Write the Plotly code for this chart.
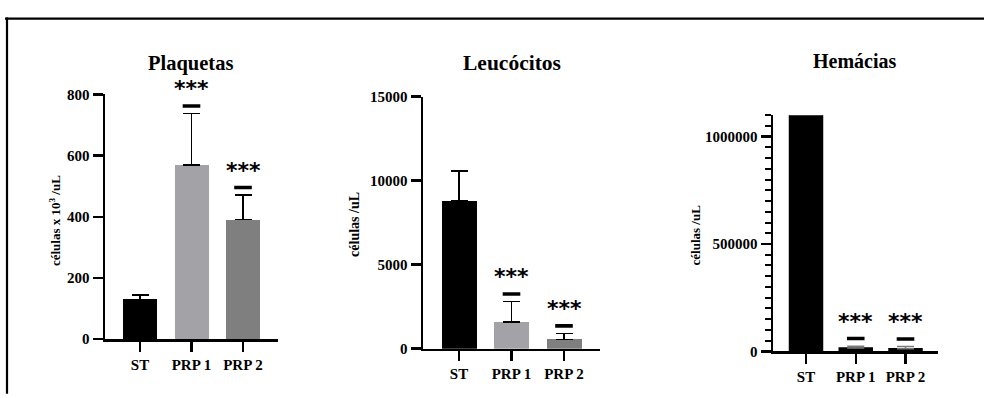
import plotly.graph_objects as go

# ---------------- data ----------------
categories = ["ST", "PRP 1", "PRP 2"]
bar_colors = ["#000000", "#a3a3a7", "#7f7f7f"]

plaquetas_mean = [130, 570, 391]
plaquetas_sd = [15, 167, 80]

leucocitos_mean = [8810, 1580, 550]
leucocitos_sd = [1770, 1220, 360]

# ST bar runs past the top of the axis (clipped)
hemacias_mean = [1150000, 15000, 12000]
hemacias_sd = [0, 9000, 10000]

significance = ["", "***", "***"]

titles = ["Plaquetas", "Leucócitos", "Hemácias"]
ytitles = ["células x 10<sup>3</sup> /uL", "células /uL", "células /uL"]

W, H = 984, 398

# panel layout in pixels
panels = [
    dict(mean=plaquetas_mean, sd=plaquetas_sd, left=105, right=278, bottom=345, top=90,
         c0=140, c2=243, barpx=34, yrange=[0, 800], dtick=200, minor=None,
         title_xy=(190, 58), tsize=20.5, ytitle_xy=(55, 222), ytsize=13,
         errcolor="black", line=0),
    dict(mean=leucocitos_mean, sd=leucocitos_sd, left=423, right=600, bottom=355, top=92.3,
         c0=459, c2=564, barpx=35, yrange=[0, 15000], dtick=5000, minor=None,
         title_xy=(512, 57), tsize=21.5, ytitle_xy=(355, 226), ytsize=14,
         errcolor="black", line=0),
    dict(mean=hemacias_mean, sd=hemacias_sd, left=773, right=938, bottom=357.7, top=111.7,
         c0=806, c2=905.5, barpx=33, yrange=[0, 1100000], dtick=500000, minor=50000,
         title_xy=(855, 55), tsize=20, ytitle_xy=(695, 237), ytsize=13,
         errcolor="#7a7a7a", line=1.5),
]

serif = "Liberation Serif"
fig = go.Figure()
shapes = []
annotations = []

for i, p in enumerate(panels):
    n = i + 1
    xa = "x" if n == 1 else f"x{n}"
    ya = "y" if n == 1 else f"y{n}"
    spacing = (p["c2"] - p["c0"]) / 2
    r0 = -(p["c0"] - p["left"]) / spacing
    r1 = r0 + (p["right"] - p["left"]) / spacing
    xs = list(range(len(categories)))

    fig.add_trace(go.Bar(
        x=xs, y=p["mean"], xaxis=xa, yaxis=ya,
        width=p["barpx"] / spacing,
        marker=dict(color=bar_colors if p["line"] == 0 else "black",
                    line=dict(color="black", width=p["line"])),
        error_y=dict(type="data", symmetric=False, array=p["sd"],
                     arrayminus=[0] * len(xs), color=p["errcolor"],
                     thickness=1.5, width=8.5),
        showlegend=False, hoverinfo="skip",
    ))

    axis_common = dict(showline=True, linecolor="black", linewidth=2.5,
                       ticks="outside", ticklen=10, tickwidth=2.5, tickcolor="black",
                       showgrid=False, zeroline=False,
                       tickfont=dict(family=serif, size=15, color="black", weight="bold"))
    xdom = [p["left"] / W, p["right"] / W]
    ydom = [1 - p["bottom"] / H, 1 - p["top"] / H]
    xkey = "xaxis" if n == 1 else f"xaxis{n}"
    ykey = "yaxis" if n == 1 else f"yaxis{n}"
    fig.update_layout(**{
        xkey: dict(domain=xdom, range=[r0, r1], anchor=ya, tickmode="array",
                   tickvals=xs, ticktext=categories, fixedrange=True, **axis_common),
        ykey: dict(domain=ydom, range=p["yrange"], anchor=xa, tick0=0, dtick=p["dtick"],
                   tickformat="d", fixedrange=True,
                   minor=(dict(dtick=p["minor"], ticks="outside", ticklen=6,
                               tickwidth=2, tickcolor="black", showgrid=False)
                          if p["minor"] else None),
                   **axis_common),
    })

    # significance markers: dash + stars above the error bar
    for j, s in enumerate(significance):
        if not s:
            continue
        top = p["mean"][j] + p["sd"][j]
        shapes.append(dict(type="rect", xref=xa, yref=ya,
                           xsizemode="pixel", xanchor=j, x0=-8.8, x1=8.8,
                           ysizemode="pixel", yanchor=top, y0=5.8, y1=9.4,
                           fillcolor="black", line=dict(width=0)))
        annotations.append(dict(text=s, xref=xa, yref=ya, x=j, y=top, yshift=25,
                                showarrow=False, xanchor="center", yanchor="middle",
                                font=dict(family="DejaVu Sans", size=22, color="black",
                                          weight="bold")))

    annotations.append(dict(text=titles[i], xref="paper", yref="paper",
                            x=p["title_xy"][0] / W, y=1 - p["title_xy"][1] / H,
                            showarrow=False, xanchor="center", yanchor="middle",
                            font=dict(family=serif, size=p["tsize"], color="black",
                                      weight="bold")))
    annotations.append(dict(text=ytitles[i], xref="paper", yref="paper", textangle=-90,
                            x=p["ytitle_xy"][0] / W, y=1 - p["ytitle_xy"][1] / H,
                            showarrow=False, xanchor="center", yanchor="middle",
                            font=dict(family=serif, size=p["ytsize"], color="black",
                                      weight="bold")))

# outer frame (top and left edges visible)
shapes.append(dict(type="line", xref="paper", yref="paper", x0=5 / W, x1=1.01,
                   y0=1 - 11 / H, y1=1 - 11 / H, line=dict(color="black", width=2.2)))
shapes.append(dict(type="line", xref="paper", yref="paper", x0=7 / W, x1=7 / W,
                   y0=1 - 10 / H, y1=-0.01, line=dict(color="black", width=2.2)))

fig.update_layout(width=W, height=H, margin=dict(l=0, r=0, t=0, b=0),
                  paper_bgcolor="white", plot_bgcolor="white",
                  shapes=shapes, annotations=annotations, bargap=0)

fig.write_html("out.html", config={"displayModeBar": False, "staticPlot": True},
               post_script="document.body.style.margin='0';document.body.style.overflow='hidden';")
